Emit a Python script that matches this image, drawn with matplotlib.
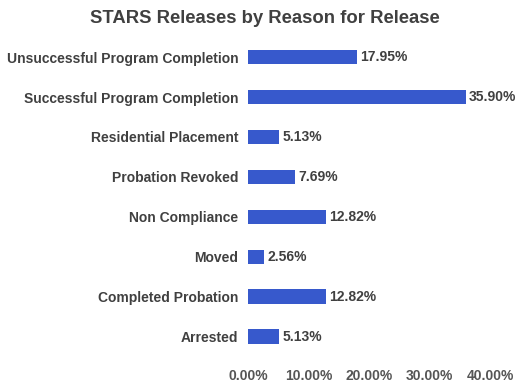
import numpy as np
import matplotlib.pyplot as plt

plt.rcParams['font.family'] = ['Liberation Sans', 'DejaVu Sans']

reasons = ['Unsuccessful Program Completion', 'Successful Program Completion',
           'Residential Placement', 'Probation Revoked', 'Non Compliance',
           'Moved', 'Completed Probation', 'Arrested']
percents = [17.95, 35.90, 5.13, 7.69, 12.82, 2.56, 12.82, 5.13]
xticks = [0, 10, 20, 30, 40]

txt_color = '#404040'
bar_color = '#3759cc'

fig = plt.figure(figsize=(5.29, 3.83), dpi=100)
ax = fig.add_axes([0.469, 0.069, 0.458, 0.834])

y = np.arange(len(reasons))
ax.barh(y, percents, height=0.36, color=bar_color)
for yi, v in zip(y, percents):
    ax.text(v + 0.6, yi, '{:.2f}%'.format(v), va='center', ha='left',
            fontsize=10, fontweight='bold', color=txt_color)

ax.set_ylim(len(reasons) - 0.5, -0.5)
ax.set_xlim(0, 40)
ax.set_yticks(y)
ax.set_yticklabels(reasons, fontsize=10, fontweight='bold', color=txt_color)
ax.set_xticks(xticks)
ax.set_xticklabels(['{:.2f}%'.format(t) for t in xticks], fontsize=10,
                   fontweight='bold', color='#555555')
ax.tick_params(axis='both', length=0)
ax.tick_params(axis='x', pad=9)
ax.tick_params(axis='y', pad=7)
for s in ax.spines.values():
    s.set_visible(False)

fig.text(0.5, 0.952, 'STARS Releases by Reason for Release', ha='center',
         va='center', fontsize=13.3, fontweight='bold', color=txt_color)

fig.savefig('out.png', dpi=100)
